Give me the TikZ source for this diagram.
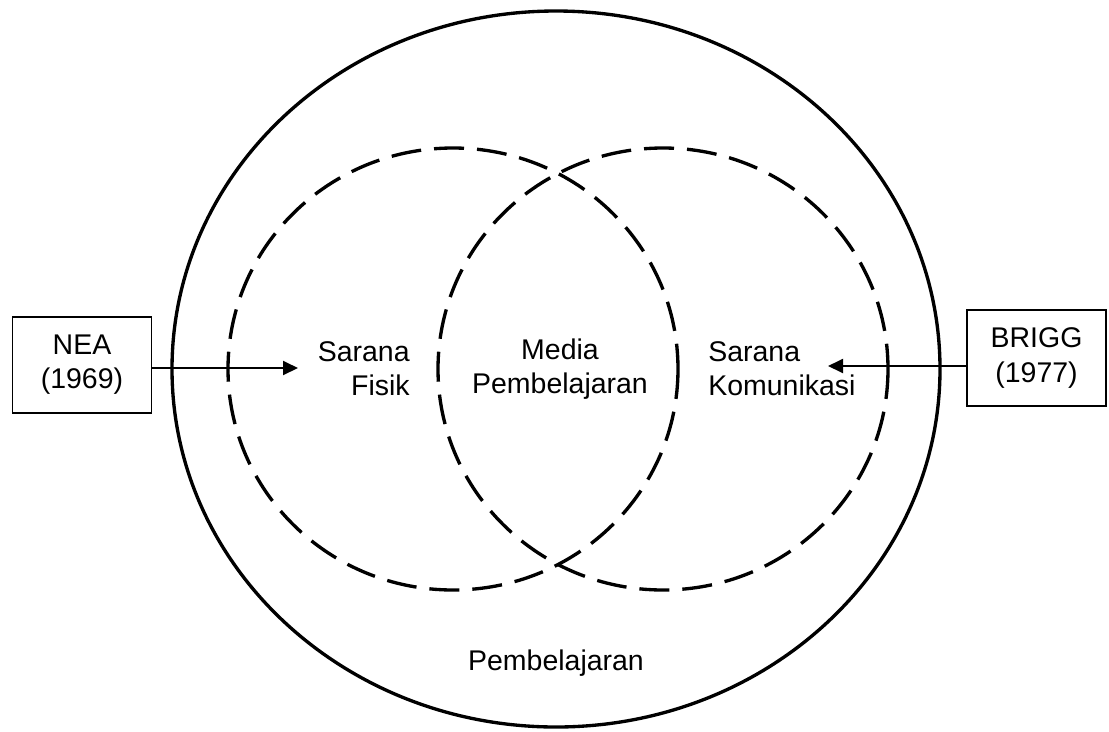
\documentclass[tikz,border=0pt]{standalone}
\usepackage{fontspec}
\setmainfont{Liberation Sans}
\usetikzlibrary{arrows.meta,positioning}

\begin{document}
\begin{tikzpicture}[
  x=0.2mm,y=-0.2mm,
  src/.style={draw,line width=1pt,minimum width=27.8mm,minimum height=19.2mm,align=center,inner sep=0pt},
  area/.style={line width=1.9pt},
  sub/.style={line width=1.9pt,dash pattern=on 6mm off 2.6mm},
  push/.style={-{Triangle[length=3mm,width=2.8mm]},line width=1.1pt},
  lbl/.style={inner sep=0pt},
  font=\fontsize{16.2pt}{19.5pt}\selectfont
]
\useasboundingbox (0,0) rectangle (1109,731);
% outer area and the two dashed sets
\draw[area] (556,369) ellipse [x radius=384, y radius=358];
\draw[sub] (453,369) ellipse [x radius=225, y radius=221];
\draw[sub] (663,369) ellipse [x radius=225, y radius=221];
\node[src] (nea) at (82,365) {NEA\\(1969)};
\node[src] (brigg) at (1036.5,358) {BRIGG\\(1977)};
\node[lbl,anchor=east,align=right] (fisik) at (410,369) {Sarana\\Fisik};
\node[lbl,align=center] (media) at (560,369) {Media\\Pembelajaran};
\node[lbl,anchor=west,align=left] (komu) at (708,369) {Sarana\\Komunikasi};
\node[lbl] (pemb) at (556,663) {Pembelajaran};
\coordinate (nt) at (298,368);
\coordinate (bt) at (828,366);
\draw[push] (nea.east |- nt) -- (nt);
\draw[push] (brigg.west |- bt) -- (bt);
\end{tikzpicture}
\end{document}
